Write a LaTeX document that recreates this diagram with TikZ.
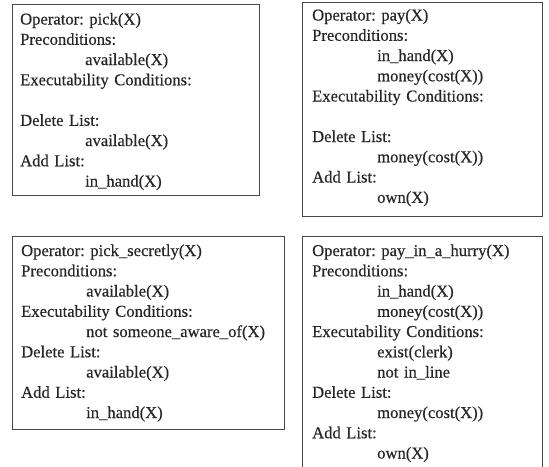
\documentclass[tikz,border=0pt]{standalone}
\usepackage{fontspec}
\setmainfont{Liberation Serif}[FakeBold=0.4]
\begin{document}
\begin{tikzpicture}[x=1pt,y=-1pt,
  opbox/.style={draw=black!72, line width=1.1pt, inner sep=0pt, anchor=north west},
  optext/.style={anchor=base west, inner sep=0pt, text width=240pt, align=left,
    text=black!85, font=\fontsize{16.6}{20.25}\selectfont\frenchspacing}]
\newcommand\ind{\hspace*{65pt}}
\useasboundingbox (0,0) rectangle (549,466);
% operator frames
\node[opbox, minimum width=247pt, minimum height=191pt] (pick) at (12,4) {};
\node[opbox, minimum width=240pt, minimum height=214pt] (pay) at (302,2) {};
\node[opbox, minimum width=272pt, minimum height=193pt] (picks) at (12,236) {};
\node[opbox, minimum width=240pt, minimum height=240pt] (payh) at (302,236) {};
% operator descriptions
\node[optext] (tpick) at (20,24.5) {Operator: pick(X)\\
Preconditions:\\
\ind available(X)\\
Executability Conditions:\\
\mbox{}\\
Delete List:\\
\ind available(X)\\
Add List:\\
\ind in\_hand(X)};
\node[optext] (tpay) at (312,20.5) {Operator: pay(X)\\
Preconditions:\\
\ind in\_hand(X)\\
\ind money(cost(X))\\
Executability Conditions:\\
\mbox{}\\
Delete List:\\
\ind money(cost(X))\\
Add List:\\
\ind own(X)};
\node[optext, text width=270pt] (tpicks) at (21,256) {Operator: pick\_secretly(X)\\
Preconditions:\\
\ind available(X)\\
Executability Conditions:\\
\ind not someone\_aware\_of(X)\\
Delete List:\\
\ind available(X)\\
Add List:\\
\ind in\_hand(X)};
\node[optext] (tpayh) at (312,256) {Operator: pay\_in\_a\_hurry(X)\\
Preconditions:\\
\ind in\_hand(X)\\
\ind money(cost(X))\\
Executability Conditions:\\
\ind exist(clerk)\\
\ind not in\_line\\
Delete List:\\
\ind money(cost(X))\\
Add List:\\
\ind own(X)};
\end{tikzpicture}
\end{document}
